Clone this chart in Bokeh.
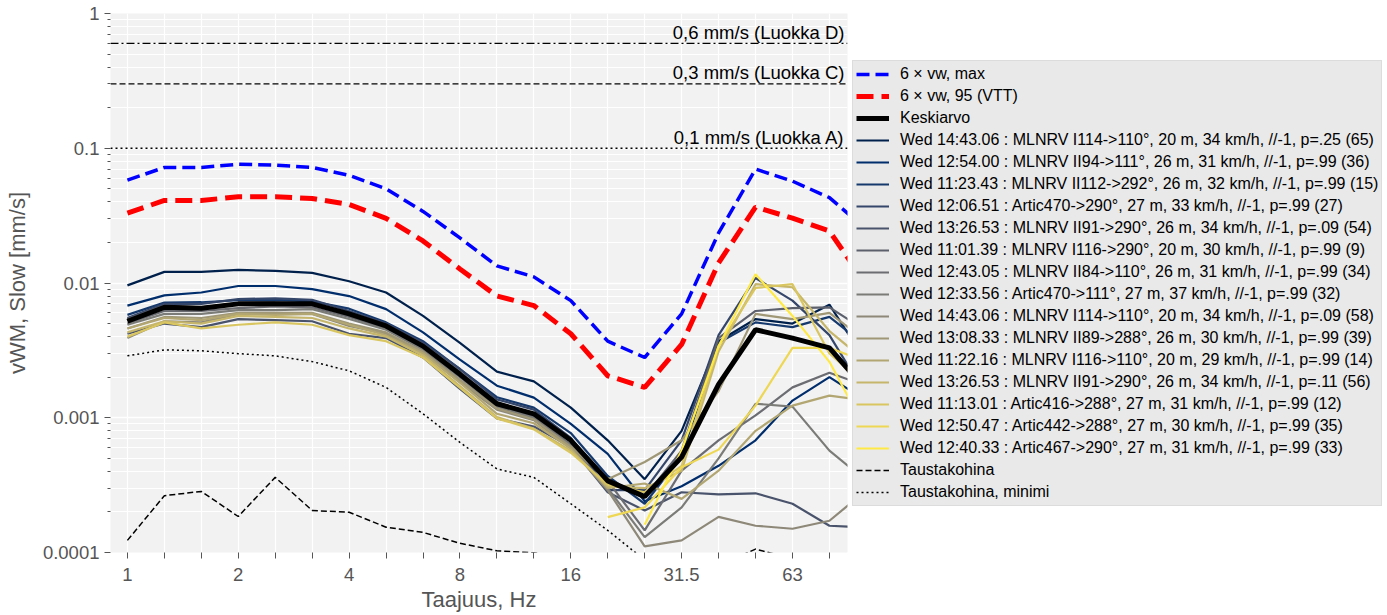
import math
from bokeh.plotting import figure
from bokeh.models import (Range1d, FixedTicker, CustomJSTickFormatter, Span, Label,
                          Legend, LegendItem)
from bokeh.palettes import cividis
from bokeh.embed import file_html
from bokeh.resources import INLINE

nan = float("nan")

# third-octave band centre frequencies (Hz) and the tick labels shown
freqs = [1.0, 1.259, 1.585, 1.995, 2.512, 3.162, 3.981, 5.012, 6.31, 7.943, 10.0,
         12.59, 15.85, 19.95, 25.12, 31.62, 39.81, 50.12, 63.1, 79.43, 100.0]
freq_labels = ["1", "", "", "2", "", "", "4", "", "", "8", "", "", "16", "", "",
               "31.5", "", "", "63", "", ""]

vmax6 = [0.058, 0.072, 0.072, 0.076, 0.075, 0.072, 0.063, 0.050, 0.034, 0.0216, 0.0134,
         0.0111, 0.0074, 0.0037, 0.0028, 0.0059, 0.0235, 0.070, 0.057, 0.043, 0.025]
v95_6 = [0.033, 0.041, 0.041, 0.0436, 0.0436, 0.0424, 0.0383, 0.0302, 0.0205, 0.0127, 0.0080,
         0.0068, 0.0042, 0.00205, 0.00168, 0.0035, 0.0141, 0.0366, 0.0303, 0.0243, 0.0097]
mean = [0.0052, 0.0066, 0.0065, 0.0070, 0.0070, 0.0070, 0.0059, 0.0048, 0.0034, 0.0021, 0.00127,
        0.00107, 0.00068, 0.00034, 0.00026, 0.00051, 0.00177, 0.0045, 0.0039, 0.0033, 0.0016]
noise = [0.000123, 0.000264, 0.000284, 0.000185, 0.000361, 0.000205, 0.000199, 0.000154,
         0.000141, 0.000117, 0.000103, 0.0000995, 0.00009, 0.00008, 0.00007, 0.00007,
         0.00008, 0.000106, 0.00009, 0.00008, 0.00008]
noise_min = [0.00288, 0.00319, 0.00314, 0.00299, 0.00288, 0.00261, 0.00223, 0.00168, 0.00107,
             0.000656, 0.000417, 0.000361, 0.00023, 0.000146, 0.000088, 0.00008, 0.00007,
             0.00007, 0.00007, 0.00007, 0.00007]

pass_labels = [
    "Wed 14:43.06 : MLNRV I114->110°, 20 m, 34 km/h, //-1, p=.25 (65)",
    "Wed 12:54.00 : MLNRV II94->111°, 26 m, 31 km/h, //-1, p=.99 (36)",
    "Wed 11:23.43 : MLNRV II112->292°, 26 m, 32 km/h, //-1, p=.99 (15)",
    "Wed 12:06.51 : Artic470->290°, 27 m, 33 km/h, //-1, p=.99 (27)",
    "Wed 13:26.53 : MLNRV II91->290°, 26 m, 34 km/h, //-1, p=.09 (54)",
    "Wed 11:01.39 : MLNRV I116->290°, 20 m, 30 km/h, //-1, p=.99 (9)",
    "Wed 12:43.05 : MLNRV II84->110°, 26 m, 31 km/h, //-1, p=.99 (34)",
    "Wed 12:33.56 : Artic470->111°, 27 m, 37 km/h, //-1, p=.99 (32)",
    "Wed 14:43.06 : MLNRV I114->110°, 20 m, 34 km/h, //-1, p=.09 (58)",
    "Wed 13:08.33 : MLNRV II89->288°, 26 m, 30 km/h, //-1, p=.99 (39)",
    "Wed 11:22.16 : MLNRV I116->110°, 20 m, 29 km/h, //-1, p=.99 (14)",
    "Wed 13:26.53 : MLNRV II91->290°, 26 m, 34 km/h, //-1, p=.11 (56)",
    "Wed 11:13.01 : Artic416->288°, 27 m, 31 km/h, //-1, p=.99 (12)",
    "Wed 12:50.47 : Artic442->288°, 27 m, 30 km/h, //-1, p=.99 (35)",
    "Wed 12:40.33 : Artic467->290°, 27 m, 31 km/h, //-1, p=.99 (33)",
]
p0 = [0.0096, 0.0121, 0.0121, 0.0125, 0.0123, 0.0119, 0.0103, 0.0085, 0.0057, 0.0036, 0.0022,
      0.00186, 0.00119, 0.00068, 0.00035, 0.0008, 0.0037, 0.0054, 0.0050, 0.0069, 0.0026]
p1 = [0.0068, 0.0081, 0.0085, 0.0095, 0.0095, 0.0090, 0.0080, 0.0064, 0.0043, 0.0027, 0.00173,
      0.00141, 0.00090, 0.00054, 0.00024, 0.00031, 0.00044, 0.00068, 0.00134, 0.0020, 0.00134]
p2 = [0.0058, 0.00715, 0.0072, 0.00745, 0.0075, 0.0073, 0.00645, 0.0051, 0.0037, 0.0023, 0.00142,
      0.00119, 0.00077, 0.00037, 0.00023, 0.00052, 0.0036, 0.0051, 0.0047, 0.0056, 0.0034]
p3 = [0.0055, 0.0070, 0.0070, 0.0076, 0.0077, 0.0075, 0.0062, 0.0050, 0.0036, 0.0023, 0.00137,
      0.00115, 0.00071, 0.00029, 0.00029, 0.00068, 0.0041, 0.0109, 0.0074, 0.0041, 0.00146]
p4 = [0.0042, 0.0050, 0.0047, 0.0054, 0.0053, 0.0052, 0.0042, 0.0039, 0.0028, 0.00164, 0.00099,
      0.00086, 0.00061, 0.00028, 0.000205, 0.00028, 0.00027, 0.000275, 0.00023, 0.000158, 0.000153]
p5 = [0.0054, 0.0068, 0.0066, 0.0071, 0.0072, 0.0070, 0.0060, 0.0049, 0.0035, 0.0022, 0.0013,
      0.00107, 0.0007, 0.00035, 0.00026, 0.00057, 0.0039, 0.0062, 0.0065, 0.0066, 0.0044]
p6 = [0.0050, 0.0062, 0.0062, 0.0065, 0.0067, 0.0066, 0.0056, 0.0046, 0.0033, 0.0020, 0.00123,
      0.00102, 0.00063, 0.00034, 0.000146, 0.000405, 0.00068, 0.00104, 0.00168, 0.00216, 0.00172]
p7 = [0.0049, 0.0059, 0.0059, 0.0063, 0.0063, 0.0064, 0.0054, 0.0045, 0.0032, 0.0019, 0.00121,
      0.00099, 0.00062, 0.0003, 0.00013, 0.000216, 0.0005, 0.00127, 0.00121, 0.00057, 0.00034]
p8 = [0.0039, 0.0052, 0.0051, 0.0059, 0.0059, 0.0059, 0.0048, 0.0042, 0.0030, 0.00184, 0.00115,
      0.00096, 0.00059, 0.00029, 0.000111, 0.000123, 0.000184, 0.000158, 0.00015, 0.000172, 0.00029]
p9 = [0.0046, 0.0056, 0.0055, 0.0060, 0.0060, 0.0060, 0.0050, 0.0043, 0.0031, 0.0019, 0.00117,
      0.00097, 0.00061, 0.00035, 0.00047, 0.00068, 0.00158, 0.0059, 0.0054, 0.0060, 0.0037]
p10 = [0.0046, 0.0055, 0.0053, 0.0059, 0.0058, 0.0059, 0.0049, 0.0041, 0.0030, 0.00182, 0.00107,
       0.00091, 0.00059, 0.0003, 0.000325, 0.00025, 0.000405, 0.0008, 0.00123, 0.00146, 0.00134]
p11 = [0.0043, 0.0052, 0.0050, 0.0057, 0.0056, 0.0055, 0.0046, 0.0040, 0.0029, 0.00172, 0.00101,
       0.00083, 0.00057, 0.00031, 0.0003, 0.000405, 0.0031, 0.0098, 0.0093, 0.0044, 0.0026]
p12 = [0.0040, 0.0051, 0.0046, 0.0049, 0.0051, 0.0049, 0.0041, 0.0037, 0.0028, 0.00167, 0.00099,
       0.00082, 0.00055, 0.00032, 0.00028, 0.00044, 0.0034, 0.0092, 0.0098, 0.0030, 0.00172]
p13 = [nan, nan, nan, nan, nan, nan, nan, nan, nan, nan, nan, nan, nan,
       0.000183, 0.000216, 0.00043, 0.00058, 0.00123, 0.0033, 0.0033, 0.0026]
p14 = [nan, nan, nan, nan, nan, nan, nan, nan, nan, nan, nan, nan, nan, nan,
       0.000161, 0.00057, 0.0034, 0.0116, 0.0057, 0.0026, 0.0008]
pass_values = [p0, p1, p2, p3, p4, p5, p6, p7, p8, p9, p10, p11, p12, p13, p14]

ref_levels = [0.6, 0.3, 0.1]
ref_texts = ["0,6 mm/s (Luokka D)", "0,3 mm/s (Luokka C)", "0,1 mm/s (Luokka A)"]
ref_dashes = ["8 3 2 3", "6 3", "2 3"]

FONT = "Liberation Sans"
GRAY = "#555555"

X0, X1 = 0.9, 88.9
Y0, Y1 = 1e-4, 1.0

p = figure(frame_width=737, frame_height=539, x_axis_type="log", y_axis_type="log",
           x_range=Range1d(X0, X1), y_range=Range1d(Y0, Y1),
           output_backend="svg", toolbar_location=None,
           min_border_left=110, min_border_right=0, min_border_top=13, min_border_bottom=63,
           background_fill_color="#f2f2f2", border_fill_color="white", outline_line_color=None)

# axes
p.xaxis.ticker = FixedTicker(ticks=freqs, minor_ticks=[])
p.xaxis.formatter = CustomJSTickFormatter(args=dict(bands=freqs, names=freq_labels), code="""
    for (let i = 0; i < bands.length; i++) {
        if (Math.abs(bands[i] - tick) < 1e-6 * bands[i]) return names[i];
    }
    return "";
""")
dec = [1e-4, 1e-3, 1e-2, 1e-1, 1.0]
p.yaxis.ticker = FixedTicker(ticks=dec, minor_ticks=[k * d for d in dec[:-1] for k in range(2, 10)])
p.yaxis.formatter = CustomJSTickFormatter(code="return tick.toString();")

for ax in (p.xaxis[0], p.yaxis[0]):
    ax.axis_line_color = None
    ax.major_tick_line_color = GRAY
    ax.major_tick_out = 6
    ax.major_tick_in = 0
    ax.minor_tick_line_color = GRAY
    ax.minor_tick_out = 3
    ax.minor_tick_in = 0
    ax.major_label_text_font = FONT
    ax.major_label_text_font_size = "18.5px"
    ax.major_label_text_color = GRAY
    ax.major_label_standoff = 5
    ax.axis_label_text_font = FONT
    ax.axis_label_text_font_size = "22px"
    ax.axis_label_text_font_style = "normal"
    ax.axis_label_text_color = GRAY
p.xaxis.minor_tick_line_color = None
p.xaxis.major_label_standoff = 9
p.xaxis.axis_label = "Taajuus, Hz"
p.xaxis.axis_label_standoff = 3
p.yaxis.axis_label = "vWM, Slow [mm/s]"
p.yaxis.axis_label_standoff = 10

p.xgrid.grid_line_color = "white"
p.xgrid.grid_line_width = 1.2
p.ygrid.grid_line_color = "white"
p.ygrid.grid_line_width = 1.3
p.ygrid.minor_grid_line_color = "white"
p.ygrid.minor_grid_line_width = 1.1

# reference levels
for lev, txt, dash in zip(ref_levels, ref_texts, ref_dashes):
    p.add_layout(Span(location=lev, dimension="width", line_color="black",
                      line_width=1.3, line_dash=dash))
    p.add_layout(Label(x=X1, y=lev, text=txt, text_align="right", text_baseline="alphabetic",
                       x_offset=-3, y_offset=11, text_font=FONT, text_font_size="18.5px",
                       text_color="black"))

# individual passes
colors = cividis(len(pass_values))
pass_renderers = []
for vals, col in zip(pass_values, colors):
    pass_renderers.append(p.line(freqs, vals, line_color=col, line_width=2.2))

r_noise = p.line(freqs, noise, line_color="black", line_width=1.5, line_dash="6 3")
r_noise_min = p.line(freqs, noise_min, line_color="black", line_width=1.5, line_dash="2 3")
r_mean = p.line(freqs, mean, line_color="black", line_width=5)
r_v95 = p.line(freqs, v95_6, line_color="#ff0000", line_width=5, line_dash="17 8")
r_vmax = p.line(freqs, vmax6, line_color="#0000ff", line_width=3.5, line_dash="13 6")

items = [LegendItem(label="6 × vw, max", renderers=[r_vmax]),
         LegendItem(label="6 × vw, 95 (VTT)", renderers=[r_v95]),
         LegendItem(label="Keskiarvo", renderers=[r_mean])]
items += [LegendItem(label=lab, renderers=[r]) for lab, r in zip(pass_labels, pass_renderers)]
items += [LegendItem(label="Taustakohina", renderers=[r_noise]),
          LegendItem(label="Taustakohina, minimi", renderers=[r_noise_min])]

legend = Legend(items=items, location="center_left", margin=5, padding=3, spacing=2,
                glyph_width=33, glyph_height=20, label_height=20, label_standoff=11,
                label_text_font=FONT, label_text_font_size="16px", label_text_color="black",
                background_fill_color="#e9e9e9", background_fill_alpha=1.0,
                border_line_color="#cfcfcf", border_line_width=1)
p.add_layout(legend, "right")

open("out.html", "w").write(file_html(p, INLINE))
